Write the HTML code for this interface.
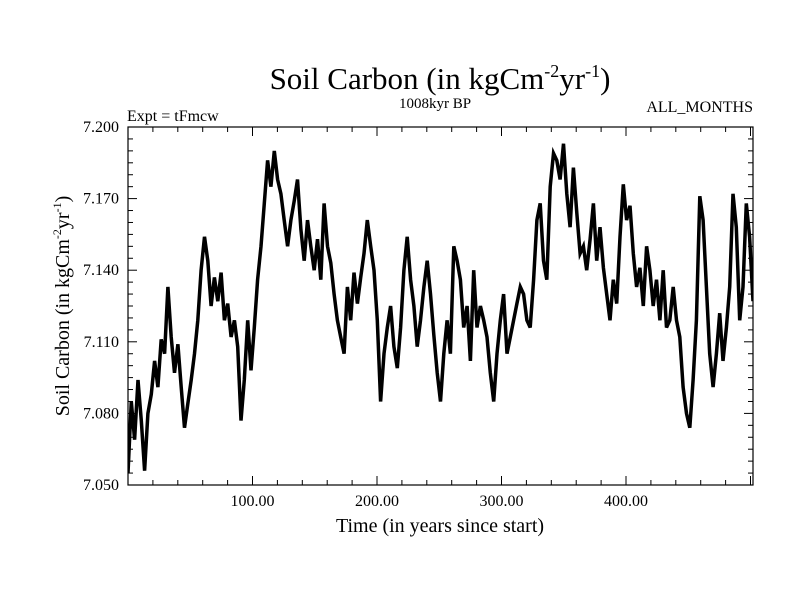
<!DOCTYPE html>
<html><head><meta charset="utf-8"><style>
html,body{margin:0;padding:0;background:#fff;}
svg{display:block;font-family:"Liberation Serif",serif;}
</style></head><body>
<svg id="chart" width="800" height="600" viewBox="0 0 800 600">
<defs><clipPath id="plotclip"><rect x="128" y="127" width="625" height="358"/></clipPath></defs>
<rect width="800" height="600" fill="#fff"/>
<text x="440" y="89" font-size="31" text-anchor="middle">Soil Carbon (in kgCm<tspan font-size="18" dy="-12">-2</tspan><tspan dy="12">yr</tspan><tspan font-size="18" dy="-12">-1</tspan><tspan dy="12">)</tspan></text>
<text x="435" y="108" font-size="15" text-anchor="middle">1008kyr BP</text>
<text x="127" y="121" font-size="16">Expt = tFmcw</text>
<text x="753" y="112" font-size="16" text-anchor="end">ALL_MONTHS</text>
<text x="440" y="532" font-size="20" text-anchor="middle">Time (in years since start)</text>
<text transform="translate(69,306) rotate(-90)" font-size="20" text-anchor="middle">Soil Carbon (in kgCm<tspan font-size="12" dy="-8">-2</tspan><tspan dy="8">yr</tspan><tspan font-size="12" dy="-8">-1</tspan><tspan dy="8">)</tspan></text>
<g id="axes"></g>
<g id="series" clip-path="url(#plotclip)"></g>
<rect x="128" y="127" width="625" height="358" fill="none" stroke="#000" stroke-width="1.2"/>
</svg>
<script>
const yearStep = 2.67;
const xMin = 0, xMax = 502;
const yMin = 7.05, yMax = 7.2;
const xTickValues = [100, 200, 300, 400];
const xTickLabels = ["100.00", "200.00", "300.00", "400.00"];
const yTickValues = [7.05, 7.08, 7.11, 7.14, 7.17, 7.2];
const yTickLabels = ["7.050", "7.080", "7.110", "7.140", "7.170", "7.200"];
const carbonValues = [
7.055,7.085,7.069,7.094,7.077,7.056,7.080,7.088,7.102,7.091,7.111,7.105,7.133,7.112,7.097,7.109,7.091,7.074,7.084,7.094,
7.105,7.119,7.140,7.154,7.144,7.125,7.137,7.127,7.139,7.119,7.126,7.112,7.119,7.108,7.077,7.094,7.119,7.098,7.116,7.136,
7.150,7.168,7.186,7.175,7.190,7.178,7.172,7.161,7.150,7.161,7.169,7.178,7.157,7.144,7.161,7.150,7.140,7.153,7.136,7.168,
7.150,7.143,7.130,7.119,7.112,7.105,7.133,7.119,7.139,7.126,7.137,7.147,7.161,7.150,7.140,7.119,7.085,7.105,7.116,7.125,
7.108,7.099,7.116,7.140,7.154,7.136,7.125,7.108,7.119,7.133,7.144,7.130,7.113,7.097,7.085,7.105,7.119,7.105,
7.150,7.144,7.136,7.116,7.125,7.102,7.140,7.116,7.125,7.119,7.112,7.097,7.085,7.105,7.119,7.130,7.105,7.112,7.119,7.126,
7.133,7.130,7.119,7.116,7.136,7.161,7.168,7.144,7.136,7.175,7.189,7.186,7.178,7.193,7.172,7.158,7.183,7.164,7.147,7.150,
7.140,7.153,7.168,7.144,7.158,7.141,7.130,7.119,7.136,7.126,7.154,7.176,7.161,7.167,7.147,7.133,7.141,7.125,7.150,7.140,
7.125,7.136,7.119,7.140,7.116,7.119,7.133,7.119,7.112,7.091,7.080,7.074,7.094,7.119,7.171,7.161,7.133,7.105,7.091,7.105,
7.122,7.102,7.116,7.133,7.172,7.158,7.119,7.133,7.168,7.154,7.127
];
const L=128,R=753,T=127,B=485;
function sx(v){return L+(v-xMin)/(xMax-xMin)*(R-L);}
function sy(v){return B-(v-yMin)/(yMax-yMin)*(B-T);}
const NS="http://www.w3.org/2000/svg";
const axes=document.getElementById('axes');
function line(x1,y1,x2,y2,name){
  const l=document.createElementNS(NS,'line');
  l.setAttribute('x1',x1);l.setAttribute('y1',y1);l.setAttribute('x2',x2);l.setAttribute('y2',y2);
  l.setAttribute('stroke','#000');l.setAttribute('stroke-width','1');
  
  
  axes.appendChild(l);
}
for(let v=20; v<xMax; v+=20){
  const x=sx(v); const major=(v%100===0); const len=major?9:5;
  line(x,B,x,B-len,'x-tick');
  line(x,T,x,T+len,'x-tick-top');
}
for(let k=0;k<=30;k++){
  const v=yMin+k*0.005; const y=sy(v); const major=(k%6===0); const len=major?9:5;
  line(L,y,L+len,y,'y-tick');
  line(R,y,R-len,y,'y-tick-right');
}
xTickValues.forEach((v,i)=>{
  const t=document.createElementNS(NS,'text');
  t.setAttribute('x',sx(v));t.setAttribute('y',B+21);t.setAttribute('font-size','16');t.setAttribute('text-anchor','middle');
  t.textContent=xTickLabels[i];
  
  
  axes.appendChild(t);
});
yTickValues.forEach((v,i)=>{
  const t=document.createElementNS(NS,'text');
  t.setAttribute('x',L-9);t.setAttribute('y',sy(v)+5);t.setAttribute('font-size','16');t.setAttribute('text-anchor','end');
  t.textContent=yTickLabels[i];
  
  
  axes.appendChild(t);
});
const pts=carbonValues.map((v,i)=>sx(i*yearStep).toFixed(1)+','+sy(v).toFixed(1)).join(' ');
const pl=document.createElementNS(NS,'polyline');
pl.setAttribute('points',pts);pl.setAttribute('fill','none');pl.setAttribute('stroke','#000');
pl.setAttribute('stroke-width','3.5');pl.setAttribute('stroke-linejoin','miter');


document.getElementById('series').appendChild(pl);
</script>
</body></html>
